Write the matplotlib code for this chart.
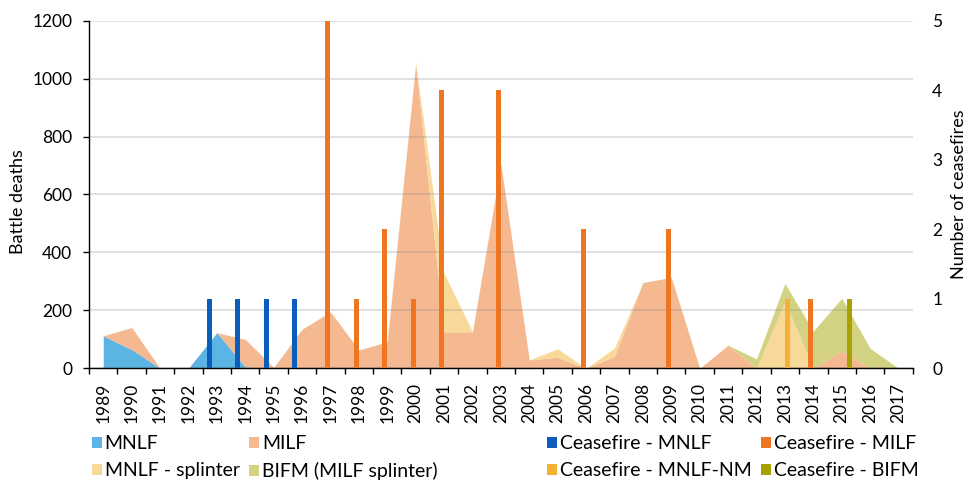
import matplotlib
matplotlib.use('Agg')
import matplotlib.pyplot as plt
import numpy as np
from matplotlib.patches import Patch

plt.rcParams['font.family'] = ['Lato', 'DejaVu Sans']

years = [str(y) for y in range(1989, 2018)]

# Battle deaths (stacked areas)
mnlf = [112, 65, 0, 0, 123, 5, 0, 0, 0, 0, 0, 0, 0, 0, 0, 0, 0, 0, 0, 0, 0, 0, 0, 0, 0, 0, 0, 0, 0]
milf = [0, 76, 0, 0, 0, 95, 3, 135, 195, 63, 92, 1050, 126, 126, 705, 29, 38, 0, 42, 296, 314, 0, 80, 0, 0, 0, 61, 0, 0]
mnlf_splinter = [0, 0, 0, 0, 0, 0, 0, 0, 0, 0, 0, 5, 202, 0, 0, 0, 29, 0, 28, 0, 0, 0, 0, 0, 230, 0, 0, 0, 0]
bifm = [0, 0, 0, 0, 0, 0, 0, 0, 0, 0, 0, 0, 0, 0, 0, 0, 0, 0, 0, 0, 0, 0, 0, 32, 63, 128, 181, 69, 0]

# Number of ceasefires (clustered bars)
cf_mnlf = [0, 0, 0, 0, 1, 1, 1, 1, 0, 0, 0, 0, 0, 0, 0, 0, 0, 0, 0, 0, 0, 0, 0, 0, 0, 0, 0, 0, 0]
cf_milf = [0, 0, 0, 0, 0, 0, 0, 0, 5, 1, 2, 1, 4, 0, 4, 0, 0, 2, 0, 0, 2, 0, 0, 0, 0, 1, 0, 0, 0]
cf_mnlf_nm = [0, 0, 0, 0, 0, 0, 0, 0, 0, 0, 0, 0, 0, 0, 0, 0, 0, 0, 0, 0, 0, 0, 0, 0, 1, 0, 0, 0, 0]
cf_bifm = [0, 0, 0, 0, 0, 0, 0, 0, 0, 0, 0, 0, 0, 0, 0, 0, 0, 0, 0, 0, 0, 0, 0, 0, 0, 0, 1, 0, 0]

area_series = [("MNLF", mnlf, "#5BB4E4"),
               ("MILF", milf, "#F4B990"),
               ("MNLF - splinter", mnlf_splinter, "#F9D99A"),
               ("BIFM (MILF splinter)", bifm, "#D3D283")]
bar_series = [("Ceasefire - MNLF", cf_mnlf, "#0B5DBB"),
              ("Ceasefire - MILF", cf_milf, "#EE7623"),
              ("Ceasefire - MNLF-NM", cf_mnlf_nm, "#F4B133"),
              ("Ceasefire - BIFM", cf_bifm, "#A8A100")]

fig = plt.figure(figsize=(9.72, 4.88), dpi=100)
ax = fig.add_axes([0.0916, 0.2453, 0.8474, 0.7123])
x = np.arange(len(years))

base = np.zeros(len(years))
for name, vals, col in area_series:
    top = base + np.array(vals, dtype=float)
    ax.fill_between(x, base, top, color=col, lw=0, zorder=1)
    base = top

ax.set_xlim(-0.5, len(years) - 0.5)
ax.set_ylim(0, 1200)
ax.set_yticks(range(0, 1201, 200))
ax.yaxis.grid(True, color='#808080', alpha=0.3, lw=1.1)
ax.set_axisbelow('line')
for s in ['top', 'right']:
    ax.spines[s].set_visible(False)
for s in ['left', 'bottom']:
    ax.spines[s].set_color('black')
    ax.spines[s].set_linewidth(1.0)
    ax.spines[s].set_zorder(5)

ax.set_xticks(np.arange(-0.5, len(years), 1.0))
ax.set_xticklabels([])
ax.set_xticks(x, minor=True)
ax.set_xticklabels(years, minor=True, rotation=90)
ax.tick_params(axis='x', which='major', length=4, width=1, color='black')
ax.tick_params(axis='x', which='minor', length=0, pad=10.5, labelsize=12.5)
ax.tick_params(axis='y', length=4, width=1, pad=8, labelsize=12.5)
ax.set_ylabel('Battle deaths', fontsize=13)
ax.yaxis.set_label_coords(-0.077, 0.48)

ax2 = ax.twinx()
w = 0.175
for i, (name, vals, col) in enumerate(bar_series):
    ax2.bar(x + (i - 1.5) * w, vals, width=w, color=col, lw=0, zorder=3)
ax2.set_ylim(0, 5)
ax2.set_yticks(range(0, 6))
for s in ax2.spines.values():
    s.set_visible(False)
ax2.tick_params(axis='y', length=0, pad=14, labelsize=12.5)
ax2.set_ylabel('Number of ceasefires', fontsize=13)
ax2.yaxis.set_label_coords(1.047, 0.5)

sq = dict(handlelength=0.5, handleheight=0.5, handletextpad=0.15,
          columnspacing=0.5, labelspacing=0.5, frameon=False,
          borderpad=0, borderaxespad=0, fontsize=14, ncol=2, loc='upper left')

h1 = [Patch(color=c, lw=0) for _, _, c in area_series]
l1 = [n for n, _, _ in area_series]
order = [0, 2, 1, 3]
fig.legend([h1[k] for k in order], [l1[k] for k in order],
           bbox_to_anchor=(92 / 972, 0.108), **sq)
h2 = [Patch(color=c, lw=0) for _, _, c in bar_series]
l2 = [n for n, _, _ in bar_series]
fig.legend([h2[k] for k in order], [l2[k] for k in order],
           bbox_to_anchor=(547 / 972, 0.108), **sq)

fig.savefig('out.png', dpi=100)
